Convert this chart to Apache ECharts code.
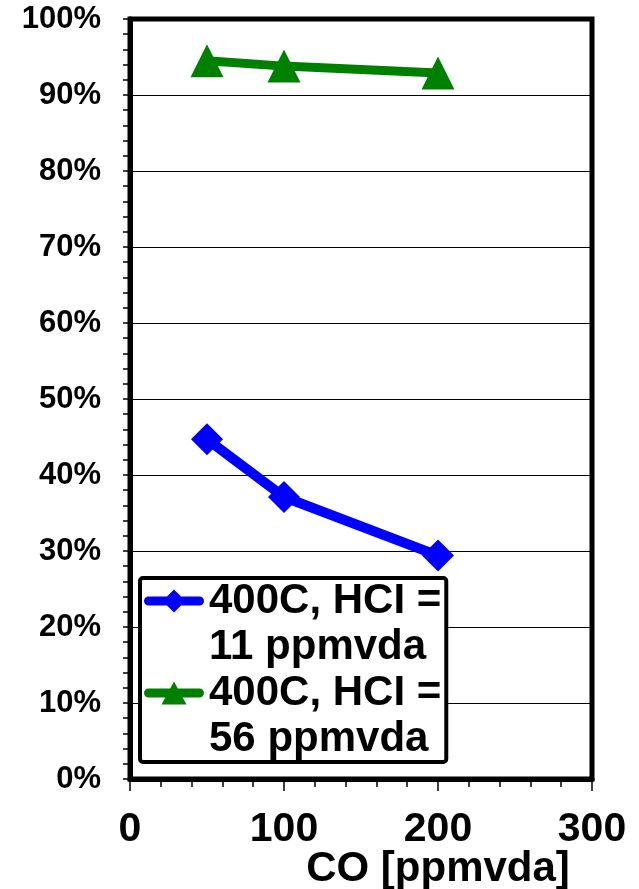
<!DOCTYPE html>
<html><head><meta charset="utf-8">
<script src="https://cdn.jsdelivr.net/npm/echarts@6/dist/echarts.min.js"></script>
<style>html,body{margin:0;padding:0;background:#fff}#c{width:639px;height:889px}</style>
</head><body><div id="c"></div>
<script>
// ---- data ----
const coValues = [50, 100, 200];
const seriesNames = ['400C, HCI = 11 ppmvda', '400C, HCI = 56 ppmvda'];
const hcl11Values = [44.7, 37.1, 29.4];
const hcl56Values = [94.5, 93.8, 92.9];
const xTickLabels = ['0', '100', '200', '300'];
const yTickLabels = ['0%', '10%', '20%', '30%', '40%', '50%', '60%', '70%', '80%', '90%', '100%'];
const xAxisName = 'CO [ppmvda]';

const FONT = "'Liberation Sans', Arial, sans-serif";
const chart = echarts.init(document.getElementById('c'), null, {renderer: 'canvas'});

const anchors = 'M0,0L0.01,0L0,0.01Z M60,92L59.99,92L60,91.99Z ';
const lineBar = 'M4.5,18.5L55.5,18.5A4.5,4.5,0,0,1,55.5,27.5L4.5,27.5A4.5,4.5,0,0,1,4.5,18.5Z ';
const iconBlue = 'path://' + anchors + lineBar + 'M30,11.5L41.5,23L30,34.5L18.5,23Z';
const iconGreen = 'path://' + anchors + lineBar + 'M30,11.5L42.5,34.5L17.5,34.5Z';

const pairs = (vals) => coValues.map((x, i) => [x, vals[i]]);

chart.setOption({
  animation: false,
  backgroundColor: '#fff',
  grid: {left: 130, top: 19, width: 462, height: 760, show: true, borderColor: '#000', borderWidth: 5,
    containLabel: false, outerBoundsMode: 'none'},
  xAxis: {
    type: 'value', min: 0, max: 300, interval: 100,
    name: xAxisName, nameLocation: 'middle', nameGap: 69, nameMoveOverlap: false,
    nameTextStyle: {fontFamily: FONT, fontSize: 42, fontWeight: 'bold', color: '#000', padding: [0, 0, 0, 154]},
    axisLine: {show: true, onZero: false, lineStyle: {color: '#000', width: 5}},
    axisTick: {show: true, inside: false, length: 12, lineStyle: {color: '#000', width: 1.5}},
    minorTick: {show: true, splitNumber: 5, length: 8, lineStyle: {color: '#000', width: 1.5}},
    splitLine: {show: false},
    axisLabel: {margin: 30, fontFamily: FONT, fontSize: 41, fontWeight: 'bold', color: '#000',
      formatter: (v) => xTickLabels[Math.round(v / 100)]}
  },
  yAxis: {
    type: 'value', min: 0, max: 100, interval: 10,
    axisLine: {show: true, onZero: false, lineStyle: {color: '#000', width: 5}},
    axisTick: {show: true, inside: false, length: 7, lineStyle: {color: '#000', width: 1.5}},
    minorTick: {show: true, splitNumber: 5, length: 7, lineStyle: {color: '#000', width: 1.5}},
    splitLine: {show: true, lineStyle: {color: '#000', width: 1}},
    axisLabel: {margin: 29, fontFamily: FONT, fontSize: 31, fontWeight: 'bold', color: '#000',
      formatter: (v) => yTickLabels[Math.round(v / 10)]}
  },
  legend: {
    orient: 'vertical', left: 140, top: 578,
    padding: [0, 5, 0, 4], itemGap: 0, itemWidth: 60, itemHeight: 92,
    backgroundColor: '#fff', borderColor: '#000', borderWidth: 4, borderRadius: 3,
    itemStyle: {borderWidth: 0},
    textStyle: {fontFamily: FONT, fontSize: 42, fontWeight: 'bold', color: '#000', lineHeight: 46},
    formatter: (name) => name.replace('= ', '=\n'),
    selectedMode: false,
    data: [{name: seriesNames[0], icon: iconBlue}, {name: seriesNames[1], icon: iconGreen}]
  },
  series: [
    {name: seriesNames[0], type: 'line', data: pairs(hcl11Values), color: '#0000FF',
      symbol: 'diamond', symbolSize: 32, lineStyle: {width: 10, color: '#0000FF'},
      itemStyle: {color: '#0000FF'}},
    {name: seriesNames[1], type: 'line', data: pairs(hcl56Values), color: '#008000',
      symbol: 'triangle', symbolSize: 33, lineStyle: {width: 9, color: '#008000'},
      itemStyle: {color: '#008000'}}
  ]
});
</script>
</body></html>
